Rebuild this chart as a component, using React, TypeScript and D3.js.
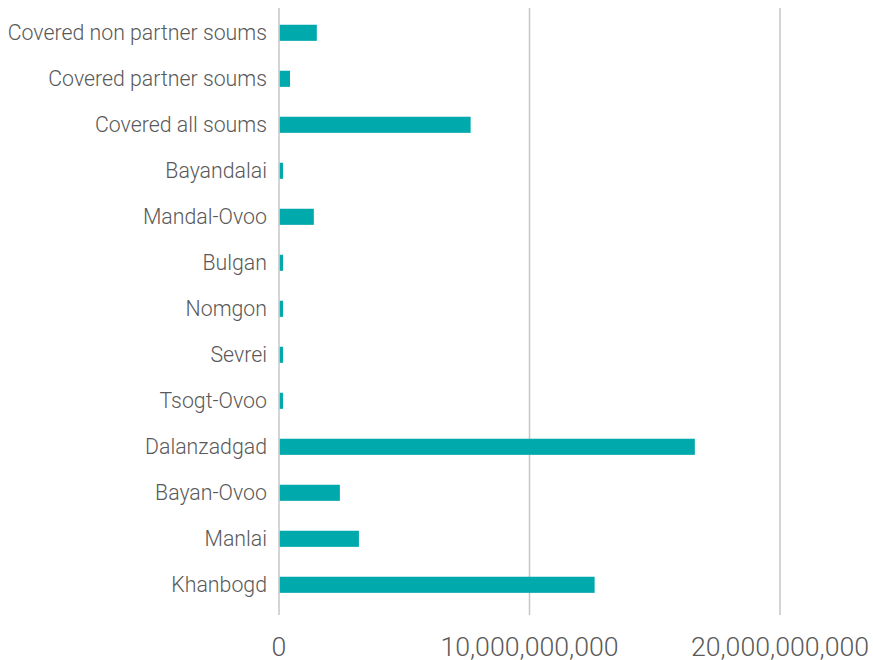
import React, { useEffect, useRef } from 'react';
import * as d3 from 'd3';

// Categories, top to bottom
const categories = [
  'Covered non partner soums',
  'Covered partner soums',
  'Covered all soums',
  'Bayandalai',
  'Mandal-Ovoo',
  'Bulgan',
  'Nomgon',
  'Sevrei',
  'Tsogt-Ovoo',
  'Dalanzadgad',
  'Bayan-Ovoo',
  'Manlai',
  'Khanbogd',
];

// Values
const values = [
  1.51e9, 0.44e9, 7.65e9, 0.16e9, 1.39e9, 0.16e9, 0.16e9, 0.16e9, 0.16e9,
  16.6e9, 2.43e9, 3.19e9, 12.6e9,
];

const tickValues = [0, 10e9, 20e9];

const App = () => {
  const ref = useRef(null);

  useEffect(() => {
    const width = 873;
    const height = 660;
    const fontFamily = 'Roboto';

    d3.select(ref.current).select('svg').remove();

    const svg = d3
      .select(ref.current)
      .append('svg')
      .attr('width', width)
      .attr('height', height)
      .style('display', 'block');

    // Position scales
    const x = d3.scaleLinear().domain([0, 20e9]).range([279, 780]);
    const y = d3.scaleBand().domain(categories).range([9.8, 607.8]).paddingInner(0.65).paddingOuter(0.325);

    // Vertical gridlines
    svg
      .selectAll('line.grid')
      .data(tickValues)
      .enter()
      .append('line')
      .attr('class', 'grid')
      .attr('x1', d => x(d))
      .attr('x2', d => x(d))
      .attr('y1', 8)
      .attr('y2', 615)
      .attr('stroke', '#c6c6c6')
      .attr('stroke-width', 1.5);

    // Bars
    svg
      .selectAll('rect.bar')
      .data(values)
      .enter()
      .append('rect')
      .attr('class', 'bar')
      .attr('x', x(0) + 0.75)
      .attr('y', (d, i) => y(categories[i]))
      .attr('width', d => x(d) - x(0) - 0.75)
      .attr('height', y.bandwidth())
      .attr('fill', '#00a9ac');

    // Category labels
    svg
      .selectAll('text.cat')
      .data(categories)
      .enter()
      .append('text')
      .attr('class', 'cat')
      .attr('x', 267)
      .attr('y', d => y(d) + y.bandwidth() / 2)
      .attr('dy', '0.35em')
      .attr('text-anchor', 'end')
      .attr('font-family', fontFamily)
      .attr('font-weight', 300)
      .attr('font-size', 21.3)
      .attr('fill', '#595959')
      .text(d => d);

    // Tick labels
    svg
      .selectAll('text.tick')
      .data(tickValues)
      .enter()
      .append('text')
      .attr('class', 'tick')
      .attr('x', d => x(d))
      .attr('y', 656)
      .attr('text-anchor', 'middle')
      .attr('font-family', fontFamily)
      .attr('font-weight', 300)
      .attr('font-size', 26.7)
      .attr('fill', '#595959')
      .text(d => d3.format(',')(d));
  }, []);

  return <div ref={ref} style={{ position: 'absolute', left: 0, top: 0 }}></div>;
};

export default App;
